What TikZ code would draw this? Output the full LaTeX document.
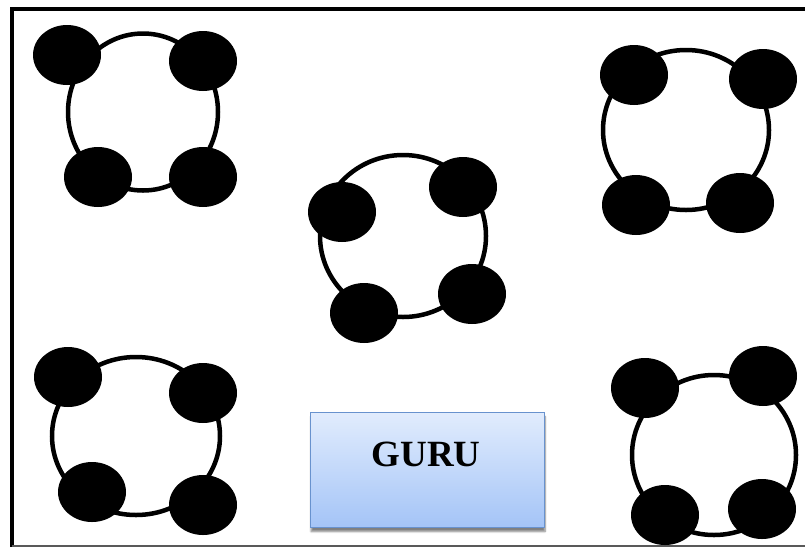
\documentclass[tikz,border=0pt]{standalone}
\usepackage{fontspec}
\setmainfont{Liberation Serif}
\usepackage{tikz}
\usetikzlibrary{shapes.geometric,shadows.blur}

\definecolor{boxtop}{RGB}{225,236,253}
\definecolor{boxbottom}{RGB}{164,196,247}
\definecolor{boxline}{RGB}{104,146,206}

\begin{document}
\begin{tikzpicture}[x=1pt, y=-1pt,
		ring_style/.style={ellipse,draw=black,line width=4.5pt,inner sep=0pt},
		blob_style/.style={ellipse,fill=black,minimum width=68pt,minimum height=60pt,inner sep=0pt},
		guru_style/.style={rectangle,draw=boxline,line width=1pt,top color=boxtop,bottom color=boxbottom,
			minimum width=234pt,minimum height=115pt,inner sep=0pt,
			blur shadow={shadow xshift=1pt,shadow yshift=-4pt,shadow blur steps=6,shadow opacity=50}},
		text_style/.style={font=\fontsize{37}{42}\selectfont\bfseries,inner sep=0pt},
		frame_style/.style={draw=black,line width=4pt}]

	\useasboundingbox (0,0) rectangle (805,547);

	% frame
	\draw[frame_style] (12,547) -- (12,8.5) -- (805,8.5);
	\draw[draw=black!65,line width=1.5pt] (12,545.8) -- (805,545.8);

	% top left group
	\node[ring_style,minimum width=150pt,minimum height=157pt] (r1) at (143,112) {};
	\node[blob_style] (n0) at (67,55) {};
	\node[blob_style] (n1) at (203,61) {};
	\node[blob_style] (n2) at (98,177) {};
	\node[blob_style] (n3) at (203,177) {};

	% top right group
	\node[ring_style,minimum width=166pt,minimum height=160pt] (r2) at (686,130) {};
	\node[blob_style] (n4) at (634,75) {};
	\node[blob_style] (n5) at (763,79) {};
	\node[blob_style] (n6) at (636,205) {};
	\node[blob_style] (n7) at (740,203) {};

	% middle group
	\node[ring_style,minimum width=166pt,minimum height=162pt] (r3) at (403,236) {};
	\node[blob_style] (n8) at (342,212) {};
	\node[blob_style] (n9) at (463,187) {};
	\node[blob_style] (n10) at (364,313) {};
	\node[blob_style] (n11) at (472,294) {};

	% bottom left group
	\node[ring_style,minimum width=168pt,minimum height=158pt] (r4) at (136,436) {};
	\node[blob_style] (n12) at (68,377) {};
	\node[blob_style] (n13) at (203,393) {};
	\node[blob_style] (n14) at (92,492) {};
	\node[blob_style] (n15) at (203,505) {};

	% bottom right group
	\node[ring_style,minimum width=164pt,minimum height=160pt] (r5) at (714,455) {};
	\node[blob_style] (n16) at (645,388) {};
	\node[blob_style] (n17) at (763,376) {};
	\node[blob_style] (n18) at (665,515) {};
	\node[blob_style] (n19) at (762,509) {};

	% guru box
	\node[guru_style] (guru) at (427,470) {};
	\node[text_style] (gurulabel) at (426,454) {GURU};
\end{tikzpicture}
\end{document}
